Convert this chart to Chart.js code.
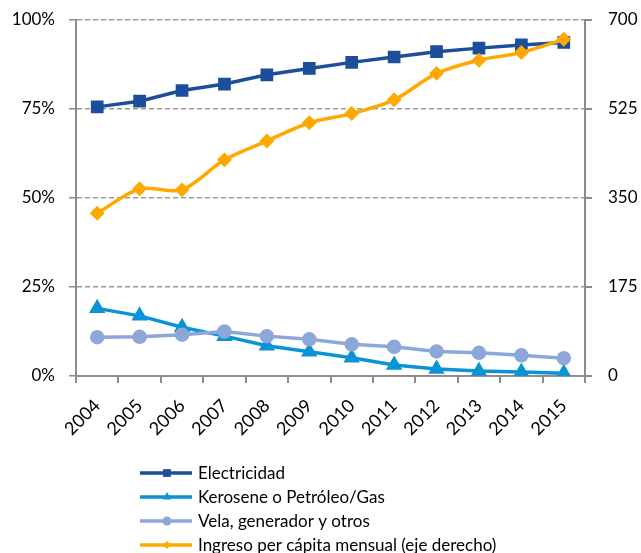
<!DOCTYPE html>
<html>
<head>
<meta charset="utf-8">
<title>Fuentes de alumbrado e ingreso per cápita</title>
<script src="https://cdn.jsdelivr.net/npm/chart.js@4.4.1/dist/chart.umd.min.js"></script>
<style>
  html, body { margin: 0; padding: 0; background: #fff; }
  canvas { display: block; }
</style>
</head>
<body>
<canvas id="myChart" width="641" height="553"></canvas>
<script>
const anios = ['2004', '2005', '2006', '2007', '2008', '2009', '2010', '2011', '2012', '2013', '2014', '2015'];
// porcentaje de hogares (eje izquierdo)
const electricidad = [75.6, 77.2, 80.2, 82.0, 84.6, 86.4, 88.1, 89.6, 91.1, 92.1, 93.0, 93.7];
const kerosene = [19.0, 16.9, 13.7, 11.2, 8.5, 6.8, 5.1, 3.1, 2.0, 1.4, 1.1, 0.8];
const vela = [10.9, 11.0, 11.6, 12.5, 11.2, 10.3, 8.9, 8.2, 6.9, 6.5, 5.8, 5.0];
// ingreso per cápita mensual (eje derecho)
const ingreso = [320, 368, 366, 425, 462, 498, 516, 543, 595, 621, 636, 662];
const ticksIzq = [0, 25, 50, 75, 100];
const ticksDer = [0, 175, 350, 525, 700];

const gris = '#8c8c8c';
const fuente = 'Lato, "Liberation Sans", sans-serif';

// ancho fijo del eje y sin el margen extra que suma el padding de las etiquetas
function ejeFijo(ancho) {
    return function (scale) {
        scale.width = ancho;
        scale.paddingTop = 0;
        scale.paddingBottom = 0;
    };
}

// leyenda en una columna, debajo del eje x
const leyendaFilas = {
    id: 'leyendaFilas',
    afterDraw(chart) {
        const ctx = chart.ctx;
        const x0 = chart.chartArea.left + 64;
        ctx.save();
        chart.data.datasets.forEach((ds, i) => {
            const y = 473 + i * 24;
            ctx.strokeStyle = ds.borderColor;
            ctx.lineWidth = ds.borderWidth;
            ctx.beginPath();
            ctx.moveTo(x0, y);
            ctx.lineTo(x0 + 52, y);
            ctx.stroke();
            ctx.fillStyle = ds.pointBackgroundColor;
            Chart.helpers.drawPoint(ctx, {
                pointStyle: ds.pointStyle,
                radius: ds.pointRadius - 1,
                rotation: 0,
                borderWidth: 0
            }, x0 + 27, y);
            ctx.fillStyle = '#000';
            ctx.font = '17px ' + fuente;
            ctx.textBaseline = 'middle';
            ctx.textAlign = 'left';
            ctx.fillText(ds.label, x0 + 58, y + 1);
        });
        ctx.restore();
    }
};

let ctx = document.getElementById('myChart').getContext('2d');
let chart = new Chart(ctx, {
    type: 'line',
    data: {
        labels: anios,
        datasets: [
            {
                label: 'Electricidad',
                data: electricidad,
                yAxisID: 'y',
                borderColor: '#1b4f9c',
                pointBackgroundColor: '#1b4f9c',
                pointBorderColor: '#1b4f9c',
                pointStyle: 'rect',
                pointRadius: 6.5,
                borderWidth: 3.5,
                order: 3
            },
            {
                label: 'Kerosene o Petróleo/Gas',
                data: kerosene,
                yAxisID: 'y',
                borderColor: '#0a94d6',
                pointBackgroundColor: '#0a94d6',
                pointBorderColor: '#0a94d6',
                pointStyle: 'triangle',
                pointRadius: 6,
                borderWidth: 3.5,
                order: 2
            },
            {
                label: 'Vela, generador y otros',
                data: vela,
                yAxisID: 'y',
                borderColor: '#8ca7d8',
                pointBackgroundColor: '#8ca7d8',
                pointBorderColor: '#8ca7d8',
                pointStyle: 'circle',
                pointRadius: 5.5,
                borderWidth: 3.5,
                order: 1
            },
            {
                label: 'Ingreso per cápita mensual (eje derecho)',
                data: ingreso,
                yAxisID: 'y1',
                borderColor: '#ffa800',
                pointBackgroundColor: '#ffa800',
                pointBorderColor: '#ffa800',
                pointStyle: 'rectRot',
                pointRadius: 5,
                borderWidth: 3.5,
                tension: 0.3,
                order: 0
            }
        ]
    },
    options: {
        responsive: false,
        animation: false,
        layout: { padding: { left: 0, right: 0, top: 20, bottom: 100 } },
        plugins: {
            legend: { display: false },
            tooltip: { enabled: false }
        },
        scales: {
            x: {
                offset: true,
                grid: {
                    offset: true,
                    drawOnChartArea: false,
                    color: gris,
                    lineWidth: 2,
                    tickLength: 7
                },
                border: { color: gris, width: 2 },
                ticks: {
                    color: '#000',
                    font: { family: fuente, size: 18 },
                    minRotation: 45,
                    maxRotation: 45,
                    padding: 12
                },
                afterFit(scale) { scale.height = 77; }
            },
            y: {
                position: 'left',
                min: 0,
                max: 100,
                afterBuildTicks(scale) { scale.ticks = ticksIzq.map(v => ({ value: v })); },
                grid: {
                    color: '#999',
                    lineWidth: 1.5,
                    tickLength: 7,
                    tickColor: gris
                },
                border: { color: gris, width: 2, dash: [5, 3] },
                ticks: {
                    color: '#000',
                    font: { family: fuente, size: 17 },
                    padding: 14,
                    callback: v => v + '%'
                },
                afterFit: ejeFijo(76)
            },
            y1: {
                position: 'right',
                min: 0,
                max: 700,
                afterBuildTicks(scale) { scale.ticks = ticksDer.map(v => ({ value: v })); },
                grid: {
                    drawOnChartArea: false,
                    color: gris,
                    lineWidth: 2,
                    tickLength: 7
                },
                border: { color: gris, width: 2 },
                ticks: {
                    color: '#000',
                    font: { family: fuente, size: 17 },
                    padding: 16
                },
                afterFit: ejeFijo(56)
            }
        }
    },
    plugins: [leyendaFilas]
});
</script>
</body>
</html>
